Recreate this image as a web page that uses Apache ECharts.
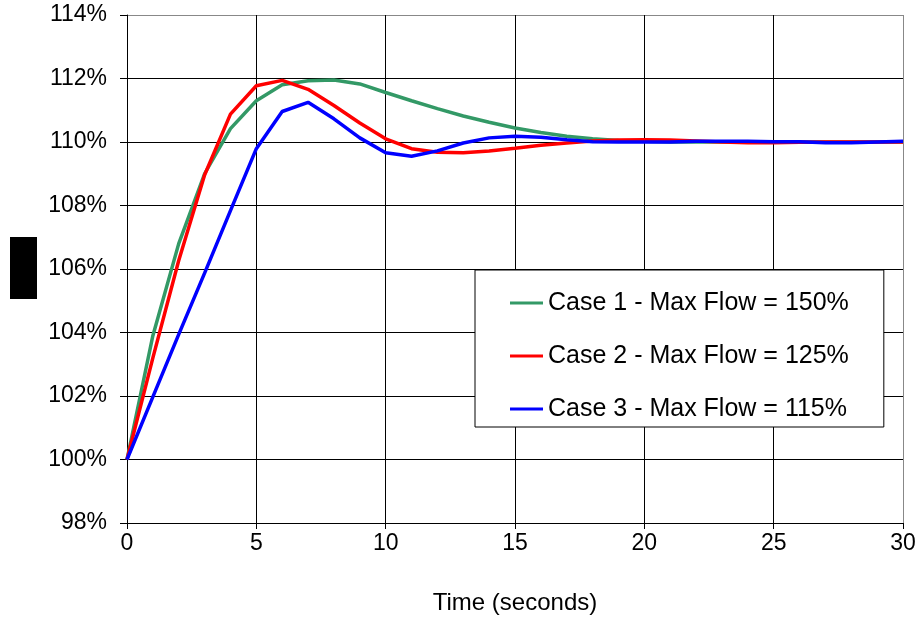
<!DOCTYPE html>
<html style="height: 100%">
   <head>
       <meta charset="utf-8">
   </head>
   <body style="height: 100%; margin: 0">
       <div id="container" style="height: 100%"></div>
       <script type="text/javascript" src="https://cdn.jsdelivr.net/npm/echarts/dist/echarts.min.js"></script>
       <script type="text/javascript">
var dom = document.getElementById("container");
var myChart = echarts.init(dom);
option = null;

// time in seconds
var seconds = [0, 1, 2, 3, 4, 5, 6, 7, 8, 9, 10, 11, 12, 13, 14, 15,
    16, 17, 18, 19, 20, 21, 22, 23, 24, 25, 26, 27, 28, 29, 30];

var seriesNames = ['Case 1 - Max Flow = 150%', 'Case 2 - Max Flow = 125%', 'Case 3 - Max Flow = 115%'];

// percent values
var case1 = [100, 103.9, 106.8, 109.0, 110.42, 111.3, 111.8, 111.93, 111.95, 111.83, 111.56,
    111.3, 111.05, 110.82, 110.62, 110.44, 110.3, 110.18, 110.1, 110.05, 110.02,
    110.0, 110.0, 110.0, 110.0, 110.0, 110.0, 110.0, 110.0, 110.0, 110.0];
var case2 = [100, 103.2, 106.27, 108.96, 110.88, 111.77, 111.94, 111.66, 111.15, 110.6, 110.1,
    109.79, 109.68, 109.66, 109.72, 109.8, 109.9, 109.97, 110.03, 110.06, 110.07,
    110.06, 110.03, 110.0, 109.98, 109.98, 109.99, 110.0, 110.0, 110.0, 110.0];
var case3 = [100, 101.97, 103.94, 105.87, 107.84, 109.79, 110.96, 111.25, 110.73, 110.13, 109.66,
    109.55, 109.72, 109.97, 110.13, 110.18, 110.15, 110.07, 110.01, 110.0, 110.0,
    110.0, 110.02, 110.02, 110.02, 110.01, 110.01, 109.98, 109.98, 110.0, 110.02];

var colors = ['#339966', '#ff0000', '#0000ff'];
var font = 'Liberation Sans';

function pairs(ys) {
    return seconds.map(function (t, i) { return [t, ys[i]]; });
}

function makeSeries(name, ys, color) {
    return {
        name: name,
        type: 'line',
        data: pairs(ys),
        symbol: 'none',
        animation: false,
        lineStyle: { color: color, width: 3.5 },
        itemStyle: { color: color }
    };
}

option = {
    backgroundColor: '#fff',
    textStyle: { fontFamily: font },
    grid: { left: 127, right: 18, top: 15, bottom: 95 },
    legend: {
        data: seriesNames,
        orient: 'vertical',
        left: 475,
        top: 270,
        backgroundColor: '#fff',
        borderColor: '#000',
        borderWidth: 1,
        padding: [18, 35, 3, 35],
        icon: 'rect',
        itemWidth: 33,
        itemHeight: 3,
        itemGap: 23,
        textStyle: { fontFamily: font, fontSize: 25, color: '#000', lineHeight: 30 }
    },
    xAxis: {
        type: 'value',
        min: 0,
        max: 30,
        interval: 5,
        name: 'Time (seconds)',
        nameLocation: 'middle',
        nameGap: 68,
        nameTextStyle: { fontFamily: font, fontSize: 24, color: '#000' },
        axisLine: { onZero: false, lineStyle: { color: '#000', width: 1 } },
        axisTick: { show: true, length: 6, lineStyle: { color: '#000' } },
        axisLabel: { fontFamily: font, fontSize: 23, color: '#000', margin: 9 },
        splitLine: {
            show: true,
            lineStyle: { color: ['#000', '#000', '#000', '#000', '#000', '#000', '#888'], width: 1 }
        }
    },
    yAxis: {
        type: 'value',
        min: 98,
        max: 114,
        interval: 2,
        axisLine: { show: true, lineStyle: { color: '#000', width: 1 } },
        axisTick: { show: true, length: 7, lineStyle: { color: '#000' } },
        axisLabel: { fontFamily: font, fontSize: 23, color: '#000', margin: 20, formatter: '{value}%' },
        splitLine: {
            show: true,
            lineStyle: { color: ['#000', '#000', '#000', '#000', '#000', '#000', '#000', '#000', '#888'], width: 1 }
        }
    },
    graphic: [{
        type: 'rect',
        left: 10,
        top: 237,
        shape: { width: 27, height: 62 },
        style: { fill: '#000' }
    }],
    series: [
        makeSeries(seriesNames[0], case1, colors[0]),
        makeSeries(seriesNames[1], case2, colors[1]),
        makeSeries(seriesNames[2], case3, colors[2])
    ]
};

if (option && typeof option === "object") {
    myChart.setOption(option, true);
}
       </script>
   </body>
</html>
